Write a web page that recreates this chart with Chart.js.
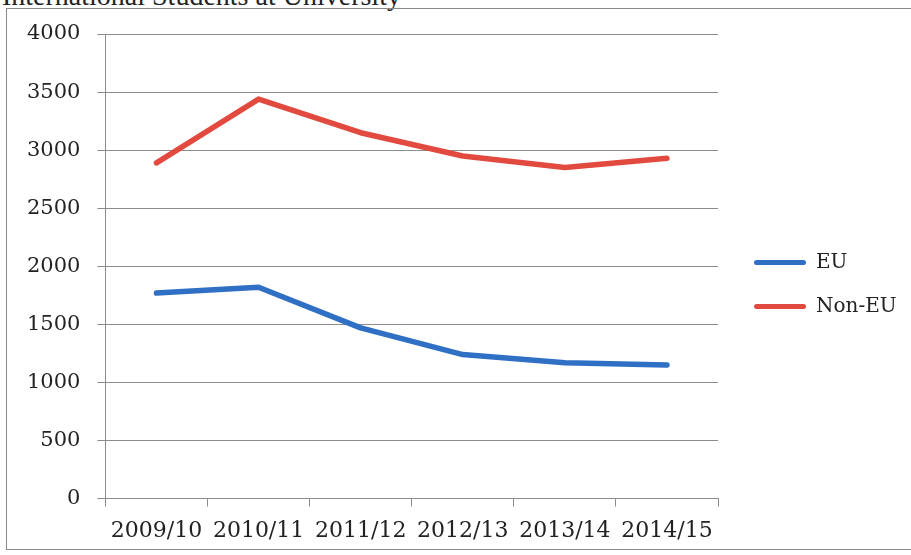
<!DOCTYPE html>
<html>
<head>
<meta charset="utf-8">
<script src="https://cdn.jsdelivr.net/npm/chart.js@4"></script>
<style>
  html, body { margin: 0; padding: 0; background: #fff; overflow: hidden; }
  #wrap { position: relative; width: 911px; height: 555px; }
  #heading {
    position: absolute; left: 2px; top: -18px; margin: 0;
    font: 28px/28px "Liberation Serif", serif; color: #222; white-space: nowrap;
  }
  #frame {
    position: absolute; left: 6px; top: 8px; width: 930px; height: 542px;
    border: 1px solid #8a8a8a; box-sizing: border-box; pointer-events: none;
  }
  #chart { position: absolute; left: 0; top: 0; }
</style>
</head>
<body>
<div id="wrap">
  <div id="heading">International Students at University</div>
  <div id="frame"></div>
  <canvas id="chart" width="911" height="555"></canvas>
</div>
<script>
// academic years and head counts
const years = ['2009/10', '2010/11', '2011/12', '2012/13', '2013/14', '2014/15'];
const euStudents = [1770, 1820, 1470, 1240, 1170, 1150];
const nonEuStudents = [2890, 3440, 3150, 2950, 2850, 2930];
const yMin = 0;
const yMax = 4000;
const yStep = 500;

const serif = '"DejaVu Serif", "Liberation Serif", serif';
const gridColor = '#8c8c8c';

// widen the legend box so "Non-EU" fits, and lift it a little
const legendTweak = {
  id: 'legendTweak',
  afterInit(chart) {
    const lg = chart.legend;
    if (!lg) return;
    const fit = lg.fit.bind(lg);
    lg.fit = function () {
      fit();
      this.width += 20;
    };
  },
  afterLayout(chart) {
    const lg = chart.legend;
    if (!lg) return;
    lg.top -= 10;
    lg.bottom -= 10;
  }
};

const ctx = document.getElementById('chart').getContext('2d');
new Chart(ctx, {
  type: 'line',
  data: {
    labels: years,
    datasets: [
      {
        label: 'EU',
        data: euStudents,
        borderColor: '#2f6fc4',
        backgroundColor: '#2f6fc4',
        borderWidth: 5.5,
        borderCapStyle: 'round',
        borderJoinStyle: 'round',
        pointRadius: 0,
        tension: 0
      },
      {
        label: 'Non-EU',
        data: nonEuStudents,
        borderColor: '#e24a40',
        backgroundColor: '#e24a40',
        borderWidth: 5.5,
        borderCapStyle: 'round',
        borderJoinStyle: 'round',
        pointRadius: 0,
        tension: 0
      }
    ]
  },
  options: {
    responsive: false,
    animation: false,
    layout: { padding: { left: 10, top: 34, right: 13, bottom: 0 } },
    plugins: {
      tooltip: { enabled: false },
      legend: {
        position: 'right',
        labels: {
          boxWidth: 52,
          boxHeight: 5,
          padding: 24,
          color: '#222',
          font: { family: serif, size: 20 },
          // flat bar swatch, no outline
          generateLabels: (chart) =>
            Chart.defaults.plugins.legend.labels.generateLabels(chart).map((item) => ({
              ...item,
              lineWidth: 0,
              borderRadius: 2.5
            }))
        }
      }
    },
    scales: {
      x: {
        offset: true,
        grid: {
          offset: true,
          drawOnChartArea: false,
          drawTicks: true,
          tickLength: 8,
          color: gridColor
        },
        border: { color: gridColor },
        ticks: {
          padding: 11,
          maxRotation: 0,
          autoSkip: false,
          color: '#222',
          font: { family: serif, size: 22 }
        }
      },
      y: {
        min: yMin,
        max: yMax,
        grid: { color: gridColor, tickLength: 8 },
        border: { color: gridColor },
        ticks: {
          stepSize: yStep,
          padding: 17,
          color: '#222',
          font: { family: serif, size: 21 },
          callback: (v) => String(v)
        }
      },
      // empty axis that keeps a gap between plot and legend
      gap: {
        position: 'right',
        display: true,
        grid: { display: false },
        border: { display: false },
        ticks: { display: false },
        afterFit: (scale) => { scale.width = 12; }
      }
    }
  },
  plugins: [legendTweak]
});
</script>
</body>
</html>
